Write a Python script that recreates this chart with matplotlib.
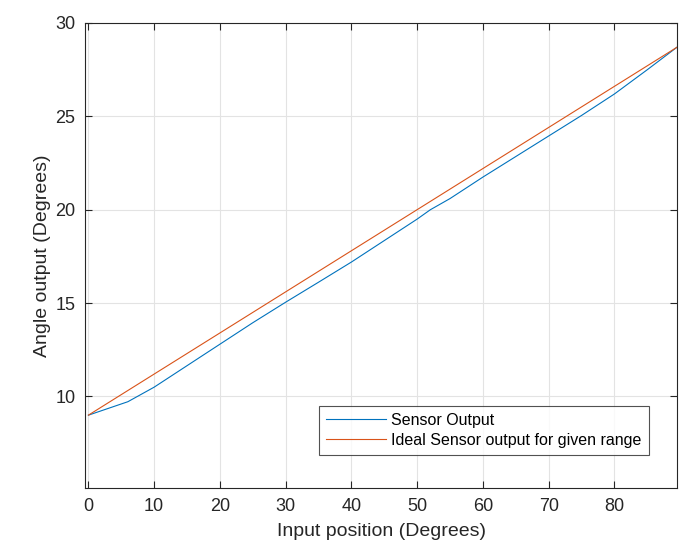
import matplotlib.pyplot as plt

plt.rcParams['font.family'] = ['Liberation Sans', 'DejaVu Sans']

# sensor readings (degrees)
sensorX = [0, 6, 10, 15, 20, 25, 30, 35, 40, 45, 50, 52, 55, 60, 65, 70, 75, 80, 85, 89.5]
sensorY = [9.0, 9.72, 10.5, 11.65, 12.8, 13.95, 15.05, 16.12, 17.2, 18.35, 19.5, 20.0, 20.6, 21.75, 22.85, 23.95, 25.05, 26.2, 27.5, 28.7]

# ideal output over the same range
idealX = [0, 89.5]
idealY = [9.0, 28.7]

xTicks = [0, 10, 20, 30, 40, 50, 60, 70, 80]
yTicks = [10, 15, 20, 25, 30]

fig = plt.figure(figsize=(6.81, 5.45), dpi=100, facecolor='w')
ax = fig.add_axes([0.125, 0.1046, 0.869, 0.8532])

ax.plot(sensorX, sensorY, color='#0072BD', linewidth=0.8, label='Sensor Output')
ax.plot(idealX, idealY, color='#D95319', linewidth=0.8, label='Ideal Sensor output for given range')

ax.set_xlim(-0.5, 89.5)
ax.set_ylim(5.1, 30)
ax.set_xticks(xTicks)
ax.set_yticks(yTicks)
ax.grid(True, color='#e3e3e3', linewidth=0.8)
ax.set_axisbelow(True)
ax.tick_params(direction='in', top=True, right=True, length=5, width=0.8,
               color='#262626', labelsize=13, labelcolor='#262626', pad=7)
for s in ax.spines.values():
    s.set_color('#262626')
    s.set_linewidth(0.8)

ax.set_xlabel('Input position (Degrees)', fontsize=14, color='#262626', labelpad=6)
ax.set_ylabel('Angle output (Degrees)', fontsize=14, color='#262626', labelpad=3)

leg = ax.legend(loc='lower right', bbox_to_anchor=(0.966, 0.054), fontsize=11.5, frameon=True,
                fancybox=False, edgecolor='#262626', handlelength=3.8, borderpad=0.45,
                labelspacing=0.3, handletextpad=0.3)
leg.get_frame().set_linewidth(0.8)

plt.savefig('out.png', dpi=100)
